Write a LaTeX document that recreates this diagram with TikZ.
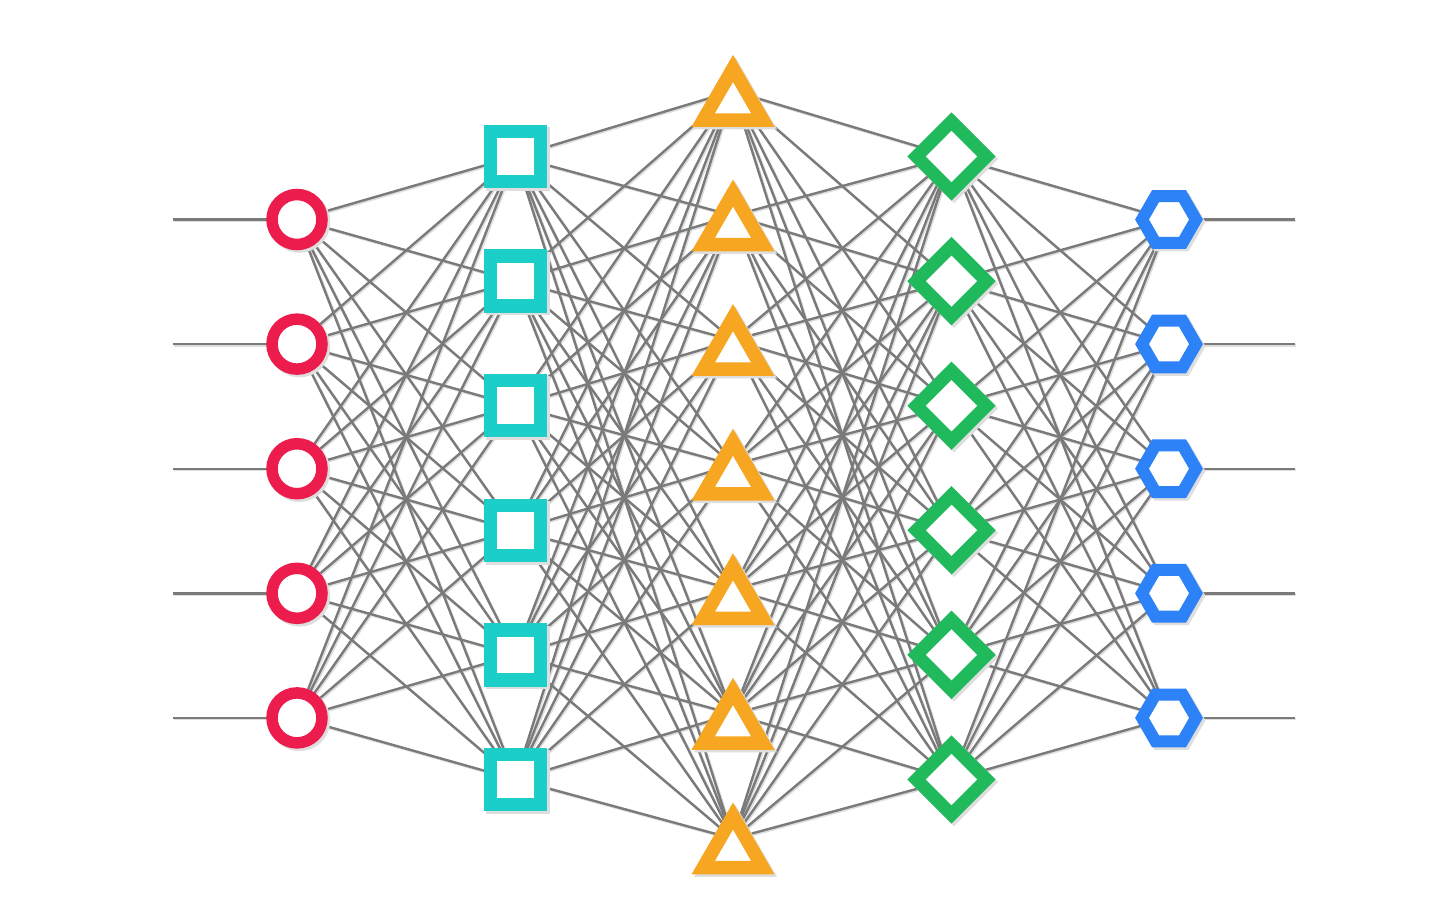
\documentclass[tikz,border=0pt]{standalone}
\definecolor{cred}{RGB}{236,28,76}
\definecolor{cteal}{RGB}{28,206,200}
\definecolor{corange}{RGB}{247,166,33}
\definecolor{cgreen}{RGB}{32,185,92}
\definecolor{cblue}{RGB}{45,130,248}
\definecolor{edgec}{RGB}{122,122,122}
\definecolor{shadowc}{RGB}{222,222,222}
\begin{document}
\begin{tikzpicture}[x=1pt,y=-1pt,line join=miter,
  edge/.style={draw=edgec,line width=2.4pt},
  edgeshadow/.style={draw=shadowc,line width=2.4pt},
  pics/neuronC/.style={code={
    \draw[shadowc,line width=11.5pt] (2.5,2.5) circle[radius=25];
    \draw[cred,fill=white,line width=11.5pt] (0,0) circle[radius=25];}},
  pics/neuronS/.style={code={
    \draw[shadowc,line width=13.5pt] (-22.5,-22.5) rectangle (27.5,27.5);
    \draw[cteal,fill=white,line width=13.5pt] (-25,-25) rectangle (25,25);}},
  pics/neuronT/.style={code={
    \draw[shadowc,line width=13.5pt] (2.5,-20.1) -- (32.3,31.5) -- (-27.3,31.5) -- cycle;
    \draw[corange,fill=white,line width=13.5pt] (0,-22.6) -- (29.8,29) -- (-29.8,29) -- cycle;}},
  pics/neuronD/.style={code={
    \draw[shadowc,line width=13pt] (2.5,-32.5) -- (37.5,2.5) -- (2.5,37.5) -- (-32.5,2.5) -- cycle;
    \draw[cgreen,fill=white,line width=13pt] (0,-35) -- (35,0) -- (0,35) -- (-35,0) -- cycle;}},
  pics/neuronH/.style={code={
    \draw[shadowc,line width=12pt,shift={(2.5,2.5)}] (0:27) -- (60:27) -- (120:27) -- (180:27) -- (240:27) -- (300:27) -- cycle;
    \draw[cblue,fill=white,line width=12pt] (0:27) -- (60:27) -- (120:27) -- (180:27) -- (240:27) -- (300:27) -- cycle;}}
]
\useasboundingbox (0,0) rectangle (1432,922);
\fill[white] (0,0) rectangle (1432,922);
% neuron positions
\foreach \k in {1,...,5}{
  \coordinate (in\k) at (173,{219.5+124.6*(\k-1)});
  \coordinate (a\k) at (297,{219.5+124.6*(\k-1)});
  \coordinate (e\k) at (1169,{219.5+124.6*(\k-1)});
  \coordinate (out\k) at (1295,{219.5+124.6*(\k-1)});
}
\foreach \k in {1,...,6}{
  \coordinate (b\k) at (515.5,{156.5+124.6*(\k-1)});
  \coordinate (d\k) at (951.5,{156.5+124.6*(\k-1)});
}
\foreach \k in {1,...,7}{
  \coordinate (c\k) at (733,{91+124.6*(\k-1)});
}
% edge shadows
\foreach \i in {1,...,5}{
  \draw[edgeshadow] ([shift={(1.3,1.3)}]in\i) -- ([shift={(1.3,1.3)}]a\i);
  \draw[edgeshadow] ([shift={(1.3,1.3)}]e\i) -- ([shift={(1.3,1.3)}]out\i);
  \foreach \j in {1,...,6}{
    \draw[edgeshadow] ([shift={(1.3,1.3)}]a\i) -- ([shift={(1.3,1.3)}]b\j);
    \draw[edgeshadow] ([shift={(1.3,1.3)}]d\j) -- ([shift={(1.3,1.3)}]e\i);
  }
}
\foreach \i in {1,...,6}{
  \foreach \j in {1,...,7}{
    \draw[edgeshadow] ([shift={(1.3,1.3)}]b\i) -- ([shift={(1.3,1.3)}]c\j);
    \draw[edgeshadow] ([shift={(1.3,1.3)}]c\j) -- ([shift={(1.3,1.3)}]d\i);
  }
}
% edges
\foreach \i in {1,...,5}{
  \draw[edge] (in\i) -- (a\i);
  \draw[edge] (e\i) -- (out\i);
  \foreach \j in {1,...,6}{
    \draw[edge] (a\i) -- (b\j);
    \draw[edge] (d\j) -- (e\i);
  }
}
\foreach \i in {1,...,6}{
  \foreach \j in {1,...,7}{
    \draw[edge] (b\i) -- (c\j);
    \draw[edge] (c\j) -- (d\i);
  }
}
% neurons
\foreach \k in {1,...,5}{
  \pic at (a\k) {neuronC};
  \pic at (e\k) {neuronH};
}
\foreach \k in {1,...,6}{
  \pic at (b\k) {neuronS};
  \pic at (d\k) {neuronD};
}
\foreach \k in {1,...,7}{
  \pic at (c\k) {neuronT};
}
\end{tikzpicture}
\end{document}
